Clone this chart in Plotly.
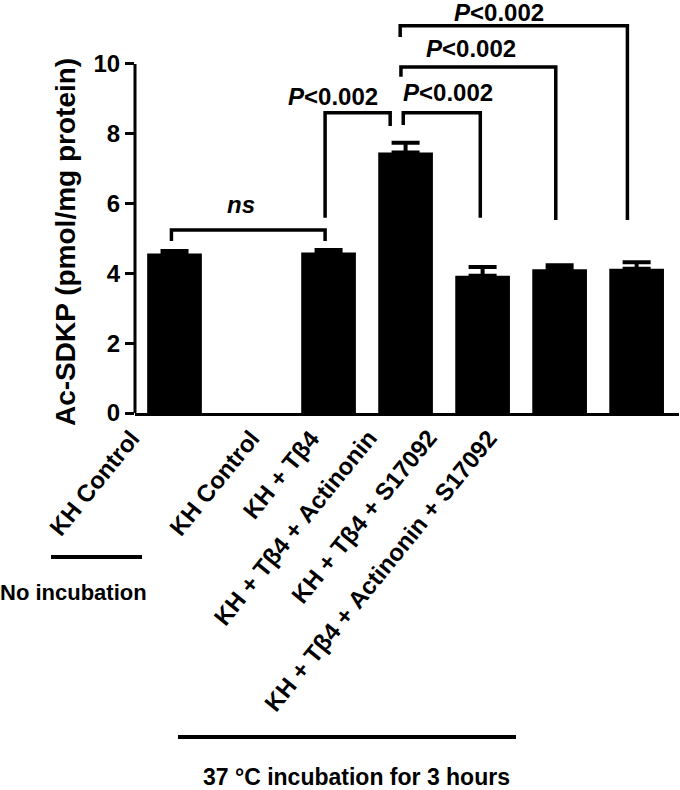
import plotly.graph_objects as go

# Data
CATEGORIES = [
    "KH Control",
    "KH Control",
    "KH + Tβ4",
    "KH + Tβ4 + Actinonin",
    "KH + Tβ4 + S17092",
    "KH + Tβ4 + Actinonin + S17092",
]
MEANS = [4.57, 4.60, 7.46, 3.93, 4.12, 4.13]
SEM = [0.07, 0.07, 0.28, 0.25, 0.11, 0.19]

# comparisons: (left x, right x, bracket height, left leg end, right leg end, label)
COMPARISONS = [
    (-0.04, 1.955, 5.24, 4.93, 4.93, "<i>ns</i>"),
    (1.955, 2.80, 8.60, 5.59, 8.22, "<i>P</i><0.002"),
    (2.97, 3.97, 8.60, 8.25, 5.59, "<i>P</i><0.002"),
    (2.94, 4.95, 9.91, 9.63, 5.53, "<i>P</i><0.002"),
    (2.93, 5.88, 11.09, 10.77, 5.53, "<i>P</i><0.002"),
]
LABEL_POS = [(0.86, 5.96), (2.06, 9.07), (3.55, 9.18), (3.85, 10.44), (4.21, 11.47)]

# slot 1 is left empty between the two groups
X_POS = [0, 2, 3, 4, 5, 6]
LABEL_END = [-0.474, 1.084, 1.851, 2.604, 3.383, 4.162]

FONT = "Liberation Sans, Arial, sans-serif"
W, H = 680, 790
L, R, T, B = 135, 1, 0, 377


def px_x(px):
    return (px - L) / (W - L - R)


def px_y(py):
    return (H - B - py) / (H - T - B)


fig = go.Figure()

fig.add_trace(
    go.Bar(
        x=X_POS,
        y=MEANS,
        width=0.71,
        marker={"color": "black", "line": {"width": 0}},
        error_y={
            "type": "data",
            "array": SEM,
            "arrayminus": [0] * len(SEM),
            "symmetric": False,
            "color": "black",
            "thickness": 4,
            "width": 14,
        },
        hoverinfo="skip",
    )
)

shapes = [
    # y axis line 0-10
    {
        "type": "line", "xref": "paper", "yref": "y",
        "x0": 0, "x1": 0, "y0": 0, "y1": 10,
        "line": {"color": "black", "width": 3},
    },
    # group lines
    {
        "type": "line", "xref": "paper", "yref": "paper",
        "x0": px_x(51), "x1": px_x(142), "y0": px_y(557), "y1": px_y(557),
        "line": {"color": "black", "width": 4},
    },
    {
        "type": "line", "xref": "paper", "yref": "paper",
        "x0": px_x(178), "x1": px_x(516), "y0": px_y(737), "y1": px_y(737),
        "line": {"color": "black", "width": 4},
    },
]

annotations = []
for (x0, x1, yt, yl, yr, text), (lx, ly) in zip(COMPARISONS, LABEL_POS):
    shapes.append(
        {
            "type": "path", "xref": "x", "yref": "y",
            "path": f"M {x0},{yl} L {x0},{yt} L {x1},{yt} L {x1},{yr}",
            "line": {"color": "black", "width": 3.5},
        }
    )
    annotations.append(
        {
            "x": lx, "y": ly, "xref": "x", "yref": "y", "text": "<b>" + text + "</b>",
            "xanchor": "center", "yanchor": "middle",
            "showarrow": False, "font": {"family": FONT, "size": 24, "color": "black"},
        }
    )

# category labels
for cat, xe in zip(CATEGORIES, LABEL_END):
    annotations.append(
        {
            "x": xe, "y": 0, "xref": "x", "yref": "y", "yshift": -9, "xshift": 10,
            "xanchor": "right", "yanchor": "top", "textangle": -51,
            "text": "<b>" + cat + "</b>", "showarrow": False,
            "font": {"family": FONT, "size": 24, "color": "black"},
        }
    )

annotations += [
    {
        "x": px_x(65), "y": px_y(242), "xref": "paper", "yref": "paper",
        "xanchor": "center", "yanchor": "middle",
        "text": "<b>Ac-SDKP (pmol/mg protein)</b>", "textangle": -90,
        "showarrow": False, "font": {"family": FONT, "size": 28, "color": "black"},
    },
    {
        "x": px_x(73), "y": px_y(592), "xref": "paper", "yref": "paper",
        "xanchor": "center", "yanchor": "middle",
        "text": "<b>No incubation</b>", "showarrow": False,
        "font": {"family": FONT, "size": 22, "color": "black"},
    },
    {
        "x": px_x(356), "y": px_y(777), "xref": "paper", "yref": "paper",
        "xanchor": "center", "yanchor": "middle",
        "text": "<b>37 °C incubation for 3 hours</b>", "showarrow": False,
        "font": {"family": FONT, "size": 23, "color": "black"},
    },
]

fig.update_layout(
    width=W,
    height=H,
    margin={"l": L, "r": R, "t": T, "b": B, "pad": 0},
    plot_bgcolor="white",
    paper_bgcolor="white",
    showlegend=False,
    shapes=shapes,
    annotations=annotations,
    xaxis={
        "range": [-0.513, 6.55],
        "showticklabels": False,
        "ticks": "",
        "showgrid": False,
        "zeroline": False,
        "showline": True,
        "linecolor": "black",
        "linewidth": 3,
    },
    yaxis={
        "range": [0, 11.83],
        "tickvals": [0, 2, 4, 6, 8, 10],
        "ticks": "outside",
        "ticklen": 9,
        "tickwidth": 3,
        "tickcolor": "black",
        "showgrid": False,
        "zeroline": False,
        "showline": False,
        "tickfont": {"family": FONT, "size": 24, "color": "black", "weight": "bold"},
    },
)

# drop the default page margin so the figure sits at the window origin
fig.write_html(
    "out.html",
    config={"displayModeBar": False},
    post_script="document.body.style.margin='0';",
)
